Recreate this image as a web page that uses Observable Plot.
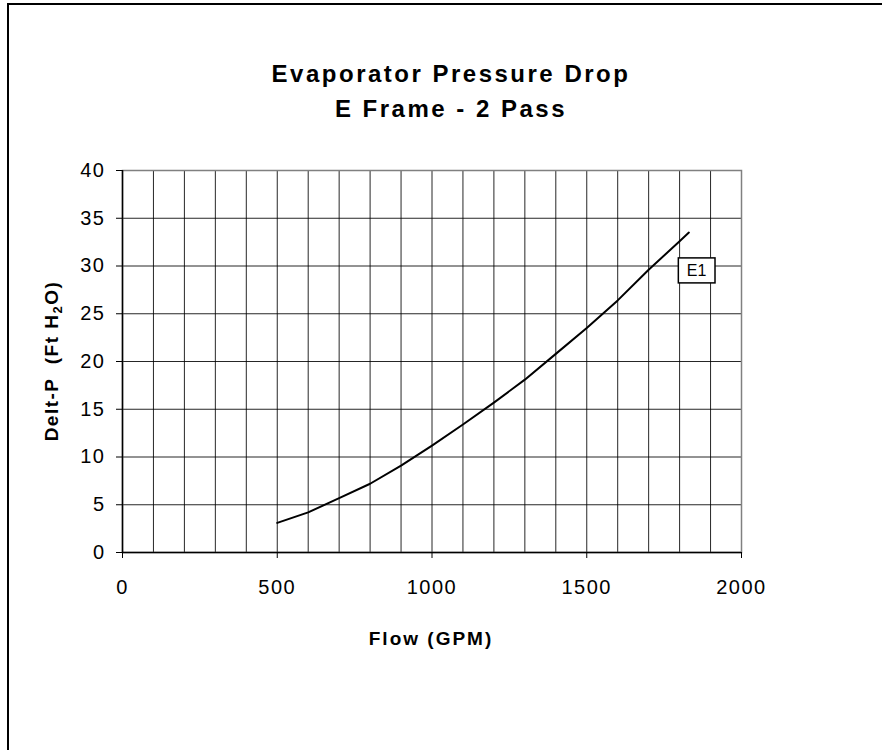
<!DOCTYPE html>
<html><head><meta charset="utf-8">
<script src="https://cdn.jsdelivr.net/npm/d3@7"></script>
<script src="https://cdn.jsdelivr.net/npm/@observablehq/plot@0.6"></script>
<style>
html,body{margin:0;padding:0;background:#fff;overflow:hidden;}
#wrap{position:relative;width:882px;height:750px;overflow:hidden;font-family:Arial,"Liberation Sans",sans-serif;}
#border{position:absolute;left:7px;top:3px;width:1000px;height:1000px;border:2px solid #000;box-sizing:border-box;}
#chart{position:absolute;left:0;top:0;}
.title{position:absolute;left:0;width:902px;text-align:center;font-weight:bold;font-size:24px;letter-spacing:2.5px;color:#000;line-height:24px;}
</style>
</head><body>
<div id="wrap">
  <div id="border"></div>
  <div id="chart"></div>
  <div class="title" style="top:62px">Evaporator Pressure Drop</div>
  <div class="title" style="top:97px">E Frame - 2 Pass</div>
</div>
<script>
// Data
const flow = [500, 600, 700, 800, 900, 1000, 1100, 1200, 1300, 1400, 1500, 1600, 1700, 1800, 1830];
const deltaP = [3.1, 4.2, 5.7, 7.2, 9.1, 11.2, 13.4, 15.7, 18.1, 20.8, 23.5, 26.4, 29.6, 32.6, 33.5];
const seriesName = ["E1"];
const labelFlow = [1855];
const labelDeltaP = [29.5];
const xTicks = [0, 500, 1000, 1500, 2000];
const yTicks = [0, 5, 10, 15, 20, 25, 30, 35, 40];
const xGrid = d3.range(100, 2001, 100);
const yGrid = [5, 10, 15, 20, 25, 30, 35, 40];

const curve = flow.map((f, i) => ({flow: f, dp: deltaP[i]}));
const labels = seriesName.map((s, i) => ({name: s, flow: labelFlow[i], dp: labelDeltaP[i]}));

const font = "Arial, 'Liberation Sans', sans-serif";
const chart = Plot.plot({
  width: 882, height: 750,
  marginLeft: 122, marginRight: 141, marginTop: 170, marginBottom: 198,
  x: {domain: [0, 2000]},
  y: {domain: [0, 40]},
  style: {fontFamily: font, background: "transparent", color: "#000"},
  marks: [
    Plot.ruleX(xGrid, {stroke: "#000", strokeWidth: 1, strokeOpacity: 0.85}),
    Plot.ruleY(yGrid, {stroke: "#000", strokeWidth: 1, strokeOpacity: 0.85}),
    Plot.frame({stroke: "#808080", strokeWidth: 1.5}),
    Plot.axisX(xTicks, {tickSize: 6, tickPadding: 21, fontSize: 20, label: null, stroke: "#000", tickFormat: d => String(d)}),
    Plot.axisY(yTicks, {tickSize: 6, tickPadding: 11, fontSize: 20, label: null, stroke: "#000"}),
    Plot.ruleX([0], {stroke: "#000", strokeWidth: 1.5}),
    Plot.ruleY([0], {stroke: "#000", strokeWidth: 1.5}),
    Plot.line(curve, {x: "flow", y: "dp", stroke: "#000", strokeWidth: 2}),
    Plot.text(labels, {x: "flow", y: "dp", text: "name", fontSize: 16, fill: "#000"})
  ]
});
document.getElementById("chart").appendChild(chart);

const svg = d3.select(chart);
svg.selectAll('g[aria-label="x-axis tick label"] text, g[aria-label="y-axis tick label"] text')
  .style("letter-spacing", "1.5px");

// Box behind the series label (in the text's own coordinate space)
svg.selectAll('g[aria-label="text"] text').each(function() {
  const b = this.getBBox();
  d3.select(this.parentNode).insert("rect", () => this)
    .attr("transform", this.getAttribute("transform"))
    .attr("x", b.x - 8.5).attr("y", b.y - 4)
    .attr("width", b.width + 17).attr("height", b.height + 8)
    .attr("fill", "#fff").attr("stroke", "#000").attr("stroke-width", 1.5);
});

// Axis titles
const yt = svg.append("text")
  .attr("transform", "translate(58,361) rotate(-90)")
  .attr("text-anchor", "middle")
  .attr("font-family", font).attr("font-weight", "bold").attr("font-size", 19)
  .attr("letter-spacing", "1.5px").attr("fill", "#000")
  .style("white-space", "pre");
yt.append("tspan").text("Delt-P  (Ft H");
yt.append("tspan").text("2").attr("font-size", 13).attr("dy", 4);
yt.append("tspan").text("O)").attr("dy", -4);

svg.append("text")
  .attr("x", 431).attr("y", 645)
  .attr("text-anchor", "middle")
  .attr("font-family", font).attr("font-weight", "bold").attr("font-size", 19)
  .attr("letter-spacing", "2px").attr("fill", "#000")
  .text("Flow (GPM)");
</script>
</body></html>
